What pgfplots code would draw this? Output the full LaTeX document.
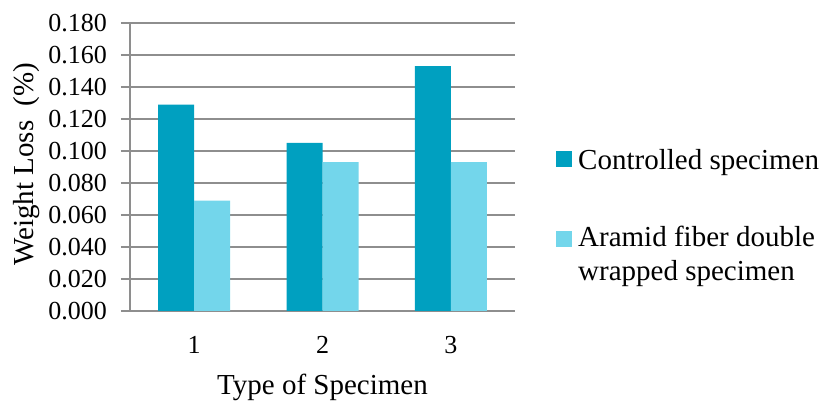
\documentclass[border=0pt]{standalone}
\usepackage{fontspec}
\setmainfont{Liberation Serif}
\usepackage{pgfplots}
\pgfplotsset{compat=1.18}
\definecolor{ctrl}{RGB}{0,160,192}
\definecolor{aramid}{RGB}{115,214,235}
\definecolor{gridgray}{RGB}{142,142,142}

\begin{document}
\begin{tikzpicture}[x=1pt,y=1pt]
\useasboundingbox (0,0) rectangle (826,401);
\begin{axis}[
  at={(130pt,90pt)}, anchor=south west,
  scale only axis, width=385pt, height=288pt,
  xmin=0.5, xmax=3.5, ymin=0, ymax=0.18,
  ybar=0pt, bar width=36pt,
  axis x line*=bottom, axis y line*=left,
  axis line style={draw=gridgray, line width=1.3pt, -},
  tick align=outside, major tick length=9pt,
  xtick={1,2,3}, xticklabels={1,2,3}, xtick style={draw=none},
  ytick={0,0.02,0.04,0.06,0.08,0.1,0.12,0.14,0.16,0.18},
  ytick style={draw=gridgray, line width=1.3pt},
  ymajorgrids, major grid style={draw=gridgray, line width=1.3pt},
  /pgf/number format/fixed,
  /pgf/number format/fixed zerofill,
  /pgf/number format/precision=3,
  /pgf/number format/assume math mode=true,
  scaled y ticks=false,
  yticklabel style={font=\fontsize{26}{30}\selectfont, inner sep=0pt, text=black, xshift=-14pt},
  xticklabel style={font=\fontsize{26}{30}\selectfont, inner sep=0pt, text=black, yshift=-16pt},
  xlabel={Type of Specimen},
  xlabel style={at={(axis description cs:0.5,0)}, anchor=base, yshift=-83pt, font=\fontsize{29}{33}\selectfont},
  ylabel={Weight Loss\ \ (\%)},
  ylabel style={at={(axis description cs:-0.2675,0.51)}, anchor=center, font=\fontsize{29}{33}\selectfont},
  legend style={draw=none, fill=none, at={(axis description cs:1.1065,0.568)}, anchor=north west,
    inner sep=0pt, font=\fontsize{29}{33.4}\selectfont, cells={align=left, inner sep=0pt},
    row sep=51pt, column sep=4pt},
  legend cell align=left,
]
\addplot[fill=ctrl, draw=none,
  legend image code/.code={\fill[ctrl] (0pt,-7pt) rectangle (16pt,9pt);}]
  coordinates {(1,0.129) (2,0.105) (3,0.153)};
\addplot[fill=aramid, draw=none,
  legend image code/.code={\fill[aramid] (0pt,7pt) rectangle (16pt,23pt);}]
  coordinates {(1,0.069) (2,0.093) (3,0.093)};
\legend{Controlled specimen, {Aramid fiber double\\wrapped specimen}}
\end{axis}
\end{tikzpicture}
\end{document}
